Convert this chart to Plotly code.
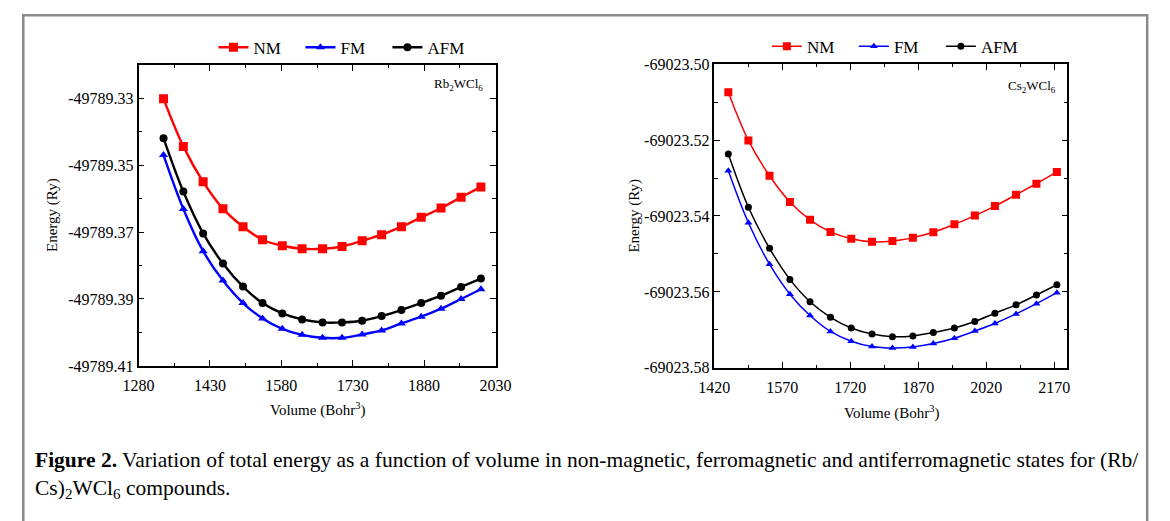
import plotly.graph_objects as go

# ---------------- data: Rb2WCl6 ----------------
rb_volume = [1332.5, 1374.1, 1415.7, 1457.3, 1499.5, 1540.5, 1582.0, 1623.6, 1666.6,
             1707.5, 1749.8, 1790.7, 1832.3, 1873.9, 1915.5, 1957.7, 1999.3]
rb_nm = [-49789.3302, -49789.3444, -49789.3550, -49789.3630, -49789.3684, -49789.3723,
         -49789.3741, -49789.3750, -49789.3750, -49789.3743, -49789.3726, -49789.3708,
         -49789.3684, -49789.3656, -49789.3628, -49789.3596, -49789.3565]
rb_fm = [-49789.3470, -49789.3631, -49789.3757, -49789.3845, -49789.3912, -49789.3958,
         -49789.3989, -49789.4007, -49789.4016, -49789.4016, -49789.4006, -49789.3994,
         -49789.3973, -49789.3953, -49789.3929, -49789.3900, -49789.3871]
rb_afm = [-49789.3420, -49789.3579, -49789.3704, -49789.3794, -49789.3863, -49789.3912,
          -49789.3943, -49789.3961, -49789.3970, -49789.3970, -49789.3965, -49789.3951,
          -49789.3933, -49789.3912, -49789.3890, -49789.3864, -49789.3839]

# ---------------- data: Cs2WCl6 ----------------
cs_volume = [1450.8, 1495.1, 1541.7, 1586.7, 1631.1, 1676.2, 1722.0, 1767.8, 1812.9,
             1858.0, 1903.1, 1949.6, 1994.7, 2039.0, 2085.6, 2130.6, 2175.7]
cs_nm = [-69023.5074, -69023.5201, -69023.5294, -69023.5363, -69023.5410, -69023.5442,
         -69023.5460, -69023.5468, -69023.5466, -69023.5457, -69023.5443, -69023.5422,
         -69023.5399, -69023.5374, -69023.5344, -69023.5315, -69023.5284]
cs_fm = [-69023.5281, -69023.5418, -69023.5527, -69023.5606, -69023.5662, -69023.5704,
         -69023.5730, -69023.5744, -69023.5748, -69023.5745, -69023.5736, -69023.5722,
         -69023.5703, -69023.5683, -69023.5658, -69023.5631, -69023.5602]
cs_afm = [-69023.5237, -69023.5377, -69023.5485, -69023.5567, -69023.5626, -69023.5667,
          -69023.5695, -69023.5711, -69023.5718, -69023.5716, -69023.5707, -69023.5695,
          -69023.5678, -69023.5656, -69023.5634, -69023.5608, -69023.5581]

# ---------------- tick labels ----------------
rb_xticks = [1280, 1430, 1580, 1730, 1880, 2030]
rb_xtext = ["1280", "1430", "1580", "1730", "1880", "2030"]
rb_yticks = [-49789.33, -49789.35, -49789.37, -49789.39, -49789.41]
rb_ytext = ["-49789.33", "-49789.35", "-49789.37", "-49789.39", "-49789.41"]
rb_yminor = [-49789.32, -49789.34, -49789.36, -49789.38, -49789.40]
rb_xminor = [1355, 1505, 1655, 1805, 1955]

cs_xticks = [1420, 1570, 1720, 1870, 2020, 2170]
cs_xtext = ["1420", "1570", "1720", "1870", "2020", "2170"]
cs_yticks = [-69023.50, -69023.52, -69023.54, -69023.56, -69023.58]
cs_ytext = ["-69023.50", "-69023.52", "-69023.54", "-69023.56", "-69023.58"]
cs_yminor = [-69023.51, -69023.53, -69023.55, -69023.57]
cs_xminor = [1495, 1645, 1795, 1945, 2095]

series_names = ["NM", "FM", "AFM"]
series_colors = ["#ff0000", "#0000ff", "#000000"]
series_symbols = ["square", "triangle-up", "circle"]

W, H = 1170, 521
FONT = "Liberation Serif"

fig = go.Figure()

def add_set(xv, ys, xaxis, yaxis, legend, lw, msizes):
    for name, yv, col, sym, ms in zip(series_names, ys, series_colors, series_symbols, msizes):
        fig.add_trace(go.Scatter(
            x=xv, y=yv, name=name, mode="lines+markers",
            line=dict(color=col, width=lw, shape="spline"),
            marker=dict(symbol=sym, size=ms, color=col),
            xaxis=xaxis, yaxis=yaxis, legend=legend, showlegend=True))

add_set(rb_volume, [rb_nm, rb_fm, rb_afm], "x", "y", "legend", 2.4, [9, 8, 8])
add_set(cs_volume, [cs_nm, cs_fm, cs_afm], "x2", "y2", "legend2", 1.5, [8, 7, 7])

def px_x(p):
    return p / W

def px_y(p):
    return 1 - p / H

axis_common = dict(
    showline=True, linecolor="black", linewidth=1.5, mirror="ticks",
    ticks="inside", ticklen=6, tickwidth=1.2, tickcolor="black",
    showgrid=False, zeroline=False,
    tickfont=dict(family=FONT, size=16, color="black"),
    tickmode="array",
)

def minor(vals):
    return dict(tickmode="array", tickvals=vals, ticks="inside", ticklen=3.5,
                tickcolor="black", tickwidth=1.2)

legend_common = dict(orientation="h", xanchor="left", yanchor="middle",
                     font=dict(family=FONT, size=17), bgcolor="rgba(0,0,0,0)",
                     itemwidth=30, tracegroupgap=0, entrywidth=42, entrywidthmode="pixels")

fig.update_layout(
    width=W, height=H,
    margin=dict(l=0, r=0, t=0, b=0),
    paper_bgcolor="white", plot_bgcolor="white",
    font=dict(family=FONT, color="black"),
    xaxis=dict(axis_common, domain=[px_x(126), px_x(493)], range=[1280, 2030],
               tickvals=rb_xticks, ticktext=rb_xtext, anchor="y", minor=minor(rb_xminor),
               ticklabelstandoff=4),
    yaxis=dict(axis_common, domain=[px_y(370), px_y(59)], range=[-49789.41, -49789.3201],
               tickvals=rb_yticks, ticktext=rb_ytext, anchor="x", minor=minor(rb_yminor)),
    xaxis2=dict(axis_common, domain=[px_x(718), px_x(1081)], range=[1420, 2199],
                tickvals=cs_xticks, ticktext=cs_xtext, anchor="y2", minor=minor(cs_xminor),
                ticklabelstandoff=4),
    yaxis2=dict(axis_common, domain=[px_y(372), px_y(58)], range=[-69023.58, -69023.50],
                tickvals=cs_yticks, ticktext=cs_ytext, anchor="x2", minor=minor(cs_yminor)),
    legend=dict(legend_common, x=px_x(203), y=px_y(41)),
    legend2=dict(legend_common, x=px_x(772), y=px_y(40)),
)

# axis titles placed as annotations
title_font = dict(family=FONT, size=15, color="black")
for txt, x, y, ang in [
    ("Volume (Bohr<sup>3</sup>)", 310, 415, 0),
    ("Volume (Bohr<sup>3</sup>)", 900, 418, 0),
    ("Energy (Ry)", 37, 214, -90),
    ("Energy (Ry)", 636, 215, -90),
]:
    fig.add_annotation(text=txt, xref="paper", yref="paper", x=px_x(x), y=px_y(y),
                       xanchor="center", yanchor="middle", textangle=ang,
                       showarrow=False, font=title_font)

fig.add_annotation(text="Rb<sub>2</sub>WCl<sub>6</sub>", xref="paper", yref="paper",
                   x=px_x(482), y=px_y(79), xanchor="right", yanchor="middle",
                   showarrow=False, font=dict(family=FONT, size=13))
fig.add_annotation(text="Cs<sub>2</sub>WCl<sub>6</sub>", xref="paper", yref="paper",
                   x=px_x(1071), y=px_y(81), xanchor="right", yanchor="middle",
                   showarrow=False, font=dict(family=FONT, size=13))

caption = ("<b>Figure 2.</b> Variation of total energy as a function of volume in non-magnetic, "
           "ferromagnetic and antiferromagnetic states for (Rb/<br>"
           "Cs)<sub>2</sub>WCl<sub>6</sub> compounds.")
fig.add_annotation(text=caption, xref="paper", yref="paper", x=px_x(17), y=px_y(483),
                   xanchor="left", yanchor="middle", align="left", showarrow=False,
                   font=dict(family=FONT, size=21.5))

fig.add_shape(type="rect", xref="paper", yref="paper",
              x0=px_x(7.5), x1=px_x(1163), y0=-0.2, y1=px_y(7.5),
              line=dict(color="#8a8a8a", width=2.5), fillcolor="rgba(0,0,0,0)", layer="below")

fig.write_html("out.html")
